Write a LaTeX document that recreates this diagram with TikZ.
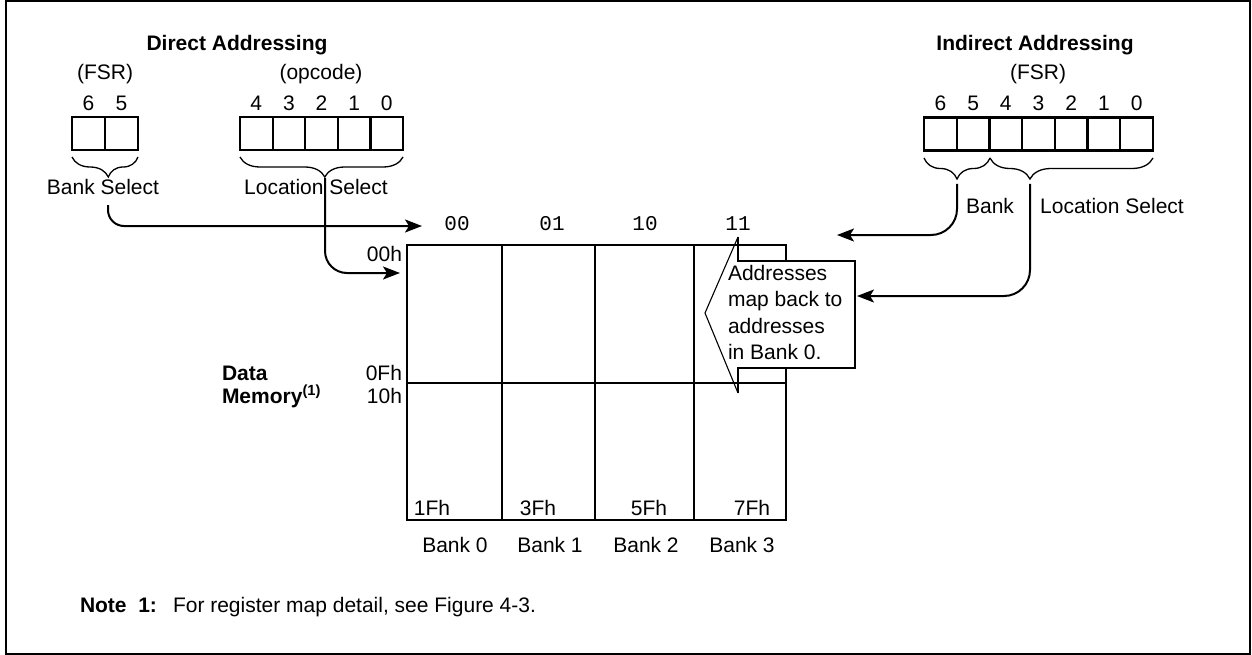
\documentclass[tikz,border=0pt]{standalone}
\usepackage{fontspec}
\setmainfont{Liberation Sans}
\newfontfamily\monof{Liberation Mono}
\usetikzlibrary{decorations.pathreplacing,arrows.meta}
\begin{document}
\begin{tikzpicture}[x=1pt,y=-1pt,
  every node/.style={font=\fontsize{21}{26.5}\selectfont, inner sep=0pt, outer sep=0pt},
  txt/.style={anchor=base},
  ttl/.style={anchor=base, font=\fontsize{21}{26.5}\selectfont\bfseries},
  mono/.style={anchor=base, font=\fontsize{21}{26.5}\monof},
  cell/.style={draw, line width=2.2pt, minimum width=32.7pt, minimum height=33pt},
  memcell/.style={draw, line width=2.2pt},
  bracestyle/.style={decorate, line width=1.3pt},
  arr/.style={line width=2pt, -{Stealth[length=17pt,width=13pt,inset=4pt]}}
]
\useasboundingbox (0,0) rectangle (1252,655);
\draw[line width=2pt] (5.5,1) rectangle (1250,653.5);

% titles
\node[ttl] (tD) at (237,51) {Direct Addressing};
\node[ttl] (tI) at (1035,51) {Indirect Addressing};
\node[txt] (fsrL) at (105,80) {(FSR)};
\node[txt] (opc) at (321,80) {(opcode)};
\node[txt] (fsrR) at (1038,80) {(FSR)};

% direct FSR bits
\foreach \i/\x in {6/88.5,5/121.5} {
  \node[cell, minimum width=33pt] (dA\i) at (\x,133.5) {};
  \node[txt] (nA\i) at (\x,111) {\i};
}
% opcode bits
\foreach \i/\x in {4/256.3,3/288.9,2/321.5,1/354.1,0/386.7} {
  \node[cell, minimum width=32.6pt] (dB\i) at (\x,133.5) {};
  \node[txt] (nB\i) at (\x,111) {\i};
}
% indirect FSR bits
\foreach \i/\x in {6/940.4,5/973.1,4/1005.8,3/1038.5,2/1071.2,1/1103.9,0/1136.6} {
  \node[cell] (dC\i) at (\x,134) {};
  \node[txt] (nC\i) at (\x,111) {\i};
}

% braces
\draw[bracestyle, decoration={brace,mirror,amplitude=20pt,aspect=0.55}] (72,157) -- (138,157);
\draw[bracestyle, decoration={brace,mirror,amplitude=20pt,aspect=0.52}] (240,157) -- (403,157);
\draw[bracestyle, decoration={brace,mirror,amplitude=21pt,aspect=0.5}] (924,158) -- (990,158);
\draw[bracestyle, decoration={brace,mirror,amplitude=21pt,aspect=0.245}] (990,158) -- (1153,158);

\node[txt] (bsel) at (103,195) {Bank Select};
\node[txt] (lsel) at (316,195) {Location Select};
\node[txt] (bank) at (990,213) {Bank};
\node[txt] (lselR) at (1112,213) {Location Select};

% memory grid
\node[memcell, minimum width=95pt, minimum height=138pt] (m0u) at (454.5,314) {};
\node[memcell, minimum width=93pt, minimum height=138pt] (m1u) at (548.5,314) {};
\node[memcell, minimum width=99pt, minimum height=138pt] (m2u) at (644.5,314) {};
\node[memcell, minimum width=92pt, minimum height=138pt] (m3u) at (740,314) {};
\node[memcell, minimum width=95pt, minimum height=137pt] (m0l) at (454.5,451.5) {};
\node[memcell, minimum width=93pt, minimum height=137pt] (m1l) at (548.5,451.5) {};
\node[memcell, minimum width=99pt, minimum height=137pt] (m2l) at (644.5,451.5) {};
\node[memcell, minimum width=92pt, minimum height=137pt] (m3l) at (740,451.5) {};

\node[mono] (c00) at (457,230) {00};
\node[mono] (c01) at (552,230) {01};
\node[mono] (c10) at (645,230) {10};
\node[mono] (c11) at (738,230) {11};

\node[anchor=base east] (a00) at (402,261) {00h};
\node[anchor=base east] (a0F) at (402,380) {0Fh};
\node[anchor=base east] (a10) at (402,403) {10h};
\node[anchor=base west, font=\fontsize{21}{26.5}\selectfont\bfseries] (dat) at (222,380) {Data};
\node[anchor=base west, font=\fontsize{21}{26.5}\selectfont\bfseries] (mem) at (222,403) {Memory\textsuperscript{(1)}};

\node[txt] (e1) at (432,515) {1Fh};
\node[txt] (e3) at (538,515) {3Fh};
\node[txt] (e5) at (649,515) {5Fh};
\node[txt] (e7) at (752,515) {7Fh};

\node[txt] (k0) at (455,552) {Bank 0};
\node[txt] (k1) at (550,552) {Bank 1};
\node[txt] (k2) at (646,552) {Bank 2};
\node[txt] (k3) at (742,552) {Bank 3};

% callout
\fill[white] (738,261) rectangle (855,368);
\draw[line width=2.2pt] (738,237) -- (738,261) -- (855,261) -- (855,368) -- (738,368) -- (738,393);
\draw[line width=1.1pt, line join=miter] (738,237) -- (705,313) -- (738,393);
\node[anchor=north west, align=left] (callout) at (728,265) {Addresses\\map back to\\addresses\\in Bank 0.};

% connectors
\coordinate (bsA) at (108,205); \coordinate (bsB) at (422,226);
\draw[arr, rounded corners=16pt] (bsA) |- (bsB);
\coordinate (lsA) at (325,178); \coordinate (lsB) at (400,273);
\draw[arr, rounded corners=22pt] (lsA) |- (lsB);
\coordinate (rbA) at (957,184); \coordinate (rbB) at (837,235);
\draw[arr, rounded corners=26pt] (rbA) |- (rbB);
\coordinate (rlA) at (1030,184); \coordinate (rlB) at (857,296);
\draw[arr, rounded corners=26pt] (rlA) |- (rlB);

% note
\node[anchor=base west, font=\fontsize{21}{26.5}\selectfont\bfseries] (nt) at (80,612) {Note\ \ 1:};
\node[anchor=base west] (ntx) at (173,612) {For register map detail, see Figure 4-3.};
\end{tikzpicture}
\end{document}
